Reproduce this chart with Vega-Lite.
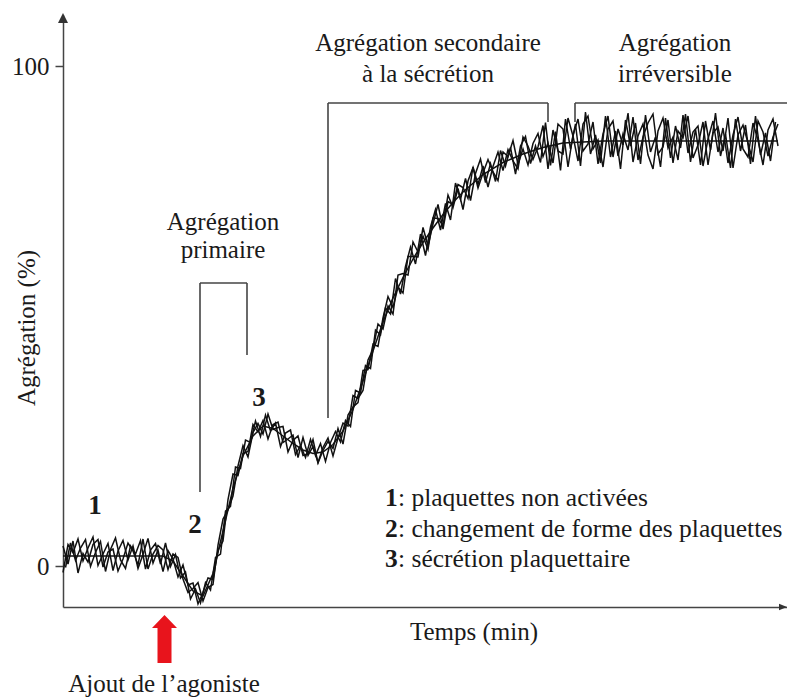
{
"$schema":"https://vega.github.io/schema/vega-lite/v6.json",
"width":724,"height":592,
"autosize":{"type":"none"},
"padding":{"left":63,"top":15,"right":0,"bottom":92},
"background":"white",
"config":{"view":{"stroke":null},"font":"Liberation Serif"},
"datasets":{
"curves":[
{"s":"a","t":0,"v":-1.3},{"s":"a","t":5,"v":4.3},{"s":"a","t":10,"v":2.7},{"s":"a","t":15,"v":5.4},{"s":"a","t":20,"v":1.0},{"s":"a","t":25,"v":3.6},{"s":"a","t":30,"v":5.8},{"s":"a","t":35,"v":0.1},{"s":"a","t":40,"v":2.4},{"s":"a","t":45,"v":4.5},{"s":"a","t":50,"v":-0.9},{"s":"a","t":55,"v":3.0},{"s":"a","t":60,"v":5.1},{"s":"a","t":65,"v":1.2},{"s":"a","t":70,"v":4.0},{"s":"a","t":75,"v":-0.5},{"s":"a","t":80,"v":2.3},{"s":"a","t":85,"v":5.5},{"s":"a","t":90,"v":0.6},{"s":"a","t":95,"v":3.2},{"s":"a","t":100,"v":-1.1},
{"s":"a","t":105,"v":3.1},{"s":"a","t":110,"v":1.4},{"s":"a","t":115,"v":-2.2},{"s":"a","t":120,"v":0.2},{"s":"a","t":125,"v":-3.8},{"s":"a","t":130,"v":-3.4},{"s":"a","t":135,"v":-7.6},{"s":"a","t":140,"v":-5.3},{"s":"a","t":145,"v":-2.4},{"s":"a","t":150,"v":-2.7},{"s":"a","t":155,"v":3.1},{"s":"a","t":160,"v":5.0},{"s":"a","t":165,"v":13.3},{"s":"a","t":170,"v":18.4},{"s":"a","t":175,"v":18.1},{"s":"a","t":180,"v":22.5},{"s":"a","t":185,"v":22.9},{"s":"a","t":190,"v":28.3},{"s":"a","t":195,"v":26.8},{"s":"a","t":200,"v":29.1},{"s":"a","t":205,"v":25.4},{"s":"a","t":210,"v":28.3},{"s":"a","t":215,"v":28.8},{"s":"a","t":220,"v":24.7},{"s":"a","t":225,"v":25.4},{"s":"a","t":230,"v":26.2},{"s":"a","t":235,"v":21.7},{"s":"a","t":240,"v":25.7},{"s":"a","t":245,"v":22.1},{"s":"a","t":250,"v":23.9},{"s":"a","t":255,"v":20.7},{"s":"a","t":260,"v":23.7},{"s":"a","t":265,"v":25.6},{"s":"a","t":270,"v":22.0},{"s":"a","t":275,"v":25.6},{"s":"a","t":280,"v":28.6},{"s":"a","t":285,"v":28.0},{"s":"a","t":290,"v":34.1},{"s":"a","t":295,"v":33.5},{"s":"a","t":300,"v":35.1},{"s":"a","t":305,"v":41.2},{"s":"a","t":310,"v":43.3},{"s":"a","t":315,"v":48.4},{"s":"a","t":320,"v":47.4},{"s":"a","t":325,"v":52.0},
{"s":"a","t":330,"v":50.4},{"s":"a","t":335,"v":58.2},{"s":"a","t":340,"v":58.5},{"s":"a","t":345,"v":58.2},{"s":"a","t":350,"v":64.8},{"s":"a","t":355,"v":62.8},{"s":"a","t":360,"v":66.0},{"s":"a","t":365,"v":63.3},{"s":"a","t":370,"v":69.6},{"s":"a","t":375,"v":69.5},{"s":"a","t":380,"v":68.1},{"s":"a","t":385,"v":74.2},{"s":"a","t":390,"v":71.7},{"s":"a","t":395,"v":75.5},{"s":"a","t":400,"v":71.3},{"s":"a","t":405,"v":77.0},{"s":"a","t":410,"v":79.7},{"s":"a","t":415,"v":75.6},{"s":"a","t":420,"v":78.6},{"s":"a","t":425,"v":81.3},{"s":"a","t":430,"v":78.8},{"s":"a","t":435,"v":77.1},{"s":"a","t":440,"v":82.8},{"s":"a","t":445,"v":81.9},{"s":"a","t":450,"v":85.1},{"s":"a","t":455,"v":80.3},{"s":"a","t":460,"v":83.4},{"s":"a","t":465,"v":80.2},{"s":"a","t":470,"v":84.5},{"s":"a","t":475,"v":86.5},
{"s":"a","t":480,"v":81.9},{"s":"a","t":485,"v":84.6},{"s":"a","t":490,"v":80.6},{"s":"a","t":495,"v":88.4},{"s":"a","t":500,"v":87.4},{"s":"a","t":505,"v":79.8},{"s":"a","t":510,"v":86.2},{"s":"a","t":515,"v":89.4},{"s":"a","t":520,"v":83.0},{"s":"a","t":525,"v":84.4},{"s":"a","t":530,"v":88.8},{"s":"a","t":535,"v":80.4},{"s":"a","t":540,"v":86.4},{"s":"a","t":545,"v":90.0},{"s":"a","t":550,"v":81.8},{"s":"a","t":555,"v":87.4},{"s":"a","t":560,"v":84.2},{"s":"a","t":565,"v":90.6},{"s":"a","t":570,"v":80.8},{"s":"a","t":575,"v":86.0},{"s":"a","t":580,"v":88.4},{"s":"a","t":585,"v":82.2},{"s":"a","t":590,"v":79.4},{"s":"a","t":595,"v":87.0},{"s":"a","t":600,"v":89.6},{"s":"a","t":605,"v":83.6},{"s":"a","t":610,"v":85.8},{"s":"a","t":615,"v":81.2},{"s":"a","t":620,"v":90.2},{"s":"a","t":625,"v":82.6},{"s":"a","t":630,"v":86.8},{"s":"a","t":635,"v":88.0},{"s":"a","t":640,"v":80.0},{"s":"a","t":645,"v":85.4},{"s":"a","t":650,"v":89.0},{"s":"a","t":655,"v":82.8},{"s":"a","t":660,"v":87.6},{"s":"a","t":665,"v":80.6},{"s":"a","t":670,"v":86.2},{"s":"a","t":675,"v":89.8},{"s":"a","t":680,"v":83.4},{"s":"a","t":685,"v":81.8},{"s":"a","t":690,"v":88.6},{"s":"a","t":695,"v":85.2},{"s":"a","t":700,"v":80.2},{"s":"a","t":705,"v":87.2},{"s":"a","t":710,"v":89.4},{"s":"a","t":715,"v":84.0},
{"s":"b","t":0,"v":4.0},{"s":"b","t":5,"v":0.4},{"s":"b","t":10,"v":5.0},{"s":"b","t":15,"v":-1.4},{"s":"b","t":20,"v":2.5},{"s":"b","t":25,"v":0.8},{"s":"b","t":30,"v":4.3},{"s":"b","t":35,"v":5.3},{"s":"b","t":40,"v":-0.2},{"s":"b","t":45,"v":2.8},{"s":"b","t":50,"v":3.4},{"s":"b","t":55,"v":-1.0},{"s":"b","t":60,"v":1.4},{"s":"b","t":65,"v":4.6},{"s":"b","t":70,"v":3.0},{"s":"b","t":75,"v":0.2},{"s":"b","t":80,"v":5.4},{"s":"b","t":85,"v":-0.6},{"s":"b","t":90,"v":2.4},{"s":"b","t":95,"v":4.1},{"s":"b","t":100,"v":3.2},
{"s":"b","t":105,"v":-0.7},{"s":"b","t":110,"v":2.4},{"s":"b","t":115,"v":1.7},{"s":"b","t":120,"v":-2.6},{"s":"b","t":125,"v":-5.3},{"s":"b","t":130,"v":-4.5},{"s":"b","t":135,"v":-3.3},{"s":"b","t":140,"v":-7.0},{"s":"b","t":145,"v":-4.3},{"s":"b","t":150,"v":-3.7},{"s":"b","t":155,"v":4.2},{"s":"b","t":160,"v":9.4},{"s":"b","t":165,"v":11.2},{"s":"b","t":170,"v":14.0},{"s":"b","t":175,"v":20.0},{"s":"b","t":180,"v":24.1},{"s":"b","t":185,"v":21.8},{"s":"b","t":190,"v":26.7},{"s":"b","t":195,"v":28.5},{"s":"b","t":200,"v":26.4},{"s":"b","t":205,"v":30.4},{"s":"b","t":210,"v":27.3},{"s":"b","t":215,"v":27.7},{"s":"b","t":220,"v":27.9},{"s":"b","t":225,"v":22.8},{"s":"b","t":230,"v":25.1},{"s":"b","t":235,"v":26.0},{"s":"b","t":240,"v":22.1},{"s":"b","t":245,"v":22.4},{"s":"b","t":250,"v":25.3},{"s":"b","t":255,"v":20.6},{"s":"b","t":260,"v":23.1},{"s":"b","t":265,"v":24.9},{"s":"b","t":270,"v":23.5},{"s":"b","t":275,"v":27.5},{"s":"b","t":280,"v":24.4},{"s":"b","t":285,"v":30.2},{"s":"b","t":290,"v":31.8},{"s":"b","t":295,"v":32.7},{"s":"b","t":300,"v":39.1},{"s":"b","t":305,"v":39.3},{"s":"b","t":310,"v":44.4},{"s":"b","t":315,"v":43.9},{"s":"b","t":320,"v":49.6},{"s":"b","t":325,"v":53.9},
{"s":"b","t":330,"v":51.7},{"s":"b","t":335,"v":55.8},{"s":"b","t":340,"v":54.6},{"s":"b","t":345,"v":61.9},{"s":"b","t":350,"v":61.9},{"s":"b","t":355,"v":61.8},{"s":"b","t":360,"v":67.7},{"s":"b","t":365,"v":64.0},{"s":"b","t":370,"v":68.4},{"s":"b","t":375,"v":72.3},{"s":"b","t":380,"v":67.4},{"s":"b","t":385,"v":72.9},{"s":"b","t":390,"v":72.3},{"s":"b","t":395,"v":76.3},{"s":"b","t":400,"v":75.7},{"s":"b","t":405,"v":73.5},{"s":"b","t":410,"v":79.8},{"s":"b","t":415,"v":76.3},{"s":"b","t":420,"v":80.0},{"s":"b","t":425,"v":75.8},{"s":"b","t":430,"v":79.9},{"s":"b","t":435,"v":82.8},{"s":"b","t":440,"v":79.1},{"s":"b","t":445,"v":83.3},{"s":"b","t":450,"v":81.0},{"s":"b","t":455,"v":79.4},{"s":"b","t":460,"v":85.8},{"s":"b","t":465,"v":84.0},{"s":"b","t":470,"v":81.3},{"s":"b","t":475,"v":83.8},
{"s":"b","t":480,"v":88.1},{"s":"b","t":485,"v":79.4},{"s":"b","t":490,"v":87.2},{"s":"b","t":495,"v":83.0},{"s":"b","t":500,"v":82.4},{"s":"b","t":505,"v":89.6},{"s":"b","t":510,"v":86.0},{"s":"b","t":515,"v":81.0},{"s":"b","t":520,"v":88.4},{"s":"b","t":525,"v":90.0},{"s":"b","t":530,"v":83.4},{"s":"b","t":535,"v":85.2},{"s":"b","t":540,"v":79.8},{"s":"b","t":545,"v":87.4},{"s":"b","t":550,"v":89.0},{"s":"b","t":555,"v":82.0},{"s":"b","t":560,"v":86.4},{"s":"b","t":565,"v":83.2},{"s":"b","t":570,"v":89.8},{"s":"b","t":575,"v":81.2},{"s":"b","t":580,"v":85.8},{"s":"b","t":585,"v":88.6},{"s":"b","t":590,"v":90.4},{"s":"b","t":595,"v":82.4},{"s":"b","t":600,"v":83.8},{"s":"b","t":605,"v":89.2},{"s":"b","t":610,"v":80.6},{"s":"b","t":615,"v":87.0},{"s":"b","t":620,"v":85.6},{"s":"b","t":625,"v":90.0},{"s":"b","t":630,"v":81.6},{"s":"b","t":635,"v":84.2},{"s":"b","t":640,"v":88.8},{"s":"b","t":645,"v":80.2},{"s":"b","t":650,"v":86.6},{"s":"b","t":655,"v":87.8},{"s":"b","t":660,"v":83.0},{"s":"b","t":665,"v":89.6},{"s":"b","t":670,"v":79.6},{"s":"b","t":675,"v":86.2},{"s":"b","t":680,"v":88.2},{"s":"b","t":685,"v":84.6},{"s":"b","t":690,"v":80.8},{"s":"b","t":695,"v":89.0},{"s":"b","t":700,"v":86.8},{"s":"b","t":705,"v":82.0},{"s":"b","t":710,"v":85.8},{"s":"b","t":715,"v":88.4},
{"s":"d","t":2.5,"v":-0.3},{"s":"d","t":7.5,"v":4.6},{"s":"d","t":12.5,"v":1.1},{"s":"d","t":17.5,"v":3.6},{"s":"d","t":22.5,"v":5.3},{"s":"d","t":27.5,"v":-0.1},{"s":"d","t":32.5,"v":2.7},{"s":"d","t":37.5,"v":4.9},{"s":"d","t":42.5,"v":-1.1},{"s":"d","t":47.5,"v":3.3},{"s":"d","t":52.5,"v":5.6},{"s":"d","t":57.5,"v":1.2},{"s":"d","t":62.5,"v":-0.5},{"s":"d","t":67.5,"v":4.0},{"s":"d","t":72.5,"v":2.4},{"s":"d","t":77.5,"v":5.1},{"s":"d","t":82.5,"v":-0.6},{"s":"d","t":87.5,"v":3.2},{"s":"d","t":92.5,"v":4.5},{"s":"d","t":97.5,"v":0.4},{"s":"d","t":102.5,"v":4.6},
{"s":"d","t":107.5,"v":-0.1},{"s":"d","t":112.5,"v":2.3},{"s":"d","t":117.5,"v":-2.4},{"s":"d","t":122.5,"v":-1.2},{"s":"d","t":127.5,"v":-6.6},{"s":"d","t":132.5,"v":-4.6},{"s":"d","t":137.5,"v":-7.4},{"s":"d","t":142.5,"v":-3.3},{"s":"d","t":147.5,"v":-4.8},{"s":"d","t":152.5,"v":1.7},{"s":"d","t":157.5,"v":2.4},{"s":"d","t":162.5,"v":11.0},{"s":"d","t":167.5,"v":11.9},{"s":"d","t":172.5,"v":19.8},{"s":"d","t":177.5,"v":19.5},{"s":"d","t":182.5,"v":25.2},{"s":"d","t":187.5,"v":24.7},{"s":"d","t":192.5,"v":29.0},{"s":"d","t":197.5,"v":25.9},{"s":"d","t":202.5,"v":30.2},{"s":"d","t":207.5,"v":27.0},{"s":"d","t":212.5,"v":28.6},{"s":"d","t":217.5,"v":23.9},{"s":"d","t":222.5,"v":26.6},{"s":"d","t":227.5,"v":27.2},{"s":"d","t":232.5,"v":22.3},{"s":"d","t":237.5,"v":24.1},{"s":"d","t":242.5,"v":21.7},{"s":"d","t":247.5,"v":25.3},{"s":"d","t":252.5,"v":22.1},{"s":"d","t":257.5,"v":24.5},{"s":"d","t":262.5,"v":20.9},{"s":"d","t":267.5,"v":24.7},{"s":"d","t":272.5,"v":26.9},{"s":"d","t":277.5,"v":24.8},{"s":"d","t":282.5,"v":29.1},{"s":"d","t":287.5,"v":27.9},{"s":"d","t":292.5,"v":35.1},{"s":"d","t":297.5,"v":34.6},{"s":"d","t":302.5,"v":40.1},{"s":"d","t":307.5,"v":39.5},{"s":"d","t":312.5,"v":47.2},{"s":"d","t":317.5,"v":46.2},{"s":"d","t":322.5,"v":51.6},{"s":"d","t":327.5,"v":50.4},
{"s":"d","t":332.5,"v":57.5},{"s":"d","t":337.5,"v":54.4},{"s":"d","t":342.5,"v":59.9},{"s":"d","t":347.5,"v":63.8},{"s":"d","t":352.5,"v":60.4},{"s":"d","t":357.5,"v":66.4},{"s":"d","t":362.5,"v":62.1},{"s":"d","t":367.5,"v":67.8},{"s":"d","t":372.5,"v":71.3},{"s":"d","t":377.5,"v":67.2},{"s":"d","t":382.5,"v":72.5},{"s":"d","t":387.5,"v":69.2},{"s":"d","t":392.5,"v":76.6},{"s":"d","t":397.5,"v":73.3},{"s":"d","t":402.5,"v":77.5},{"s":"d","t":407.5,"v":73.1},{"s":"d","t":412.5,"v":78.5},{"s":"d","t":417.5,"v":81.4},{"s":"d","t":422.5,"v":76.7},{"s":"d","t":427.5,"v":80.5},{"s":"d","t":432.5,"v":76.9},{"s":"d","t":437.5,"v":83.1},{"s":"d","t":442.5,"v":80.0},{"s":"d","t":447.5,"v":83.7},{"s":"d","t":452.5,"v":78.4},{"s":"d","t":457.5,"v":84.0},{"s":"d","t":462.5,"v":85.9},{"s":"d","t":467.5,"v":80.5},{"s":"d","t":472.5,"v":84.0},{"s":"d","t":477.5,"v":80.7},
{"s":"d","t":482.5,"v":88.7},{"s":"d","t":487.5,"v":80.1},{"s":"d","t":492.5,"v":86.9},{"s":"d","t":497.5,"v":79.1},{"s":"d","t":502.5,"v":89.4},{"s":"d","t":507.5,"v":83.4},{"s":"d","t":512.5,"v":88.4},{"s":"d","t":517.5,"v":80.0},{"s":"d","t":522.5,"v":90.8},{"s":"d","t":527.5,"v":82.4},{"s":"d","t":532.5,"v":86.2},{"s":"d","t":537.5,"v":80.6},{"s":"d","t":542.5,"v":90.0},{"s":"d","t":547.5,"v":81.8},{"s":"d","t":552.5,"v":87.0},{"s":"d","t":557.5,"v":79.4},{"s":"d","t":562.5,"v":89.2},{"s":"d","t":567.5,"v":84.0},{"s":"d","t":572.5,"v":88.6},{"s":"d","t":577.5,"v":80.4},{"s":"d","t":582.5,"v":90.2},{"s":"d","t":587.5,"v":82.8},{"s":"d","t":592.5,"v":85.8},{"s":"d","t":597.5,"v":79.8},{"s":"d","t":602.5,"v":89.6},{"s":"d","t":607.5,"v":81.6},{"s":"d","t":612.5,"v":88.0},{"s":"d","t":617.5,"v":83.6},{"s":"d","t":622.5,"v":90.4},{"s":"d","t":627.5,"v":80.8},{"s":"d","t":632.5,"v":87.4},{"s":"d","t":637.5,"v":80.2},{"s":"d","t":642.5,"v":89.0},{"s":"d","t":647.5,"v":83.2},{"s":"d","t":652.5,"v":90.6},{"s":"d","t":657.5,"v":82.0},{"s":"d","t":662.5,"v":86.4},{"s":"d","t":667.5,"v":79.6},{"s":"d","t":672.5,"v":89.4},{"s":"d","t":677.5,"v":83.0},{"s":"d","t":682.5,"v":88.2},{"s":"d","t":687.5,"v":80.4},{"s":"d","t":692.5,"v":90.0},{"s":"d","t":697.5,"v":82.2},{"s":"d","t":702.5,"v":86.6},{"s":"d","t":707.5,"v":81.0},{"s":"d","t":712.5,"v":88.8},
{"s":"c","t":0,"v":2},{"s":"c","t":50,"v":2},{"s":"c","t":100,"v":2},{"s":"c","t":110,"v":1},{"s":"c","t":120,"v":-2},{"s":"c","t":130,"v":-5},{"s":"c","t":140,"v":-6},{"s":"c","t":150,"v":-1.5},{"s":"c","t":160,"v":7},{"s":"c","t":170,"v":15.5},{"s":"c","t":180,"v":22},{"s":"c","t":190,"v":26},{"s":"c","t":200,"v":28},{"s":"c","t":210,"v":27.5},{"s":"c","t":220,"v":26},{"s":"c","t":230,"v":24.5},{"s":"c","t":240,"v":23.2},{"s":"c","t":250,"v":22.5},{"s":"c","t":260,"v":22.8},{"s":"c","t":270,"v":24.3},{"s":"c","t":280,"v":27},{"s":"c","t":290,"v":31.3},{"s":"c","t":300,"v":37},{"s":"c","t":310,"v":43},{"s":"c","t":320,"v":48.8},{"s":"c","t":330,"v":53.6},{"s":"c","t":340,"v":57.7},{"s":"c","t":350,"v":61.4},{"s":"c","t":360,"v":64.7},{"s":"c","t":370,"v":67.6},{"s":"c","t":380,"v":70.3},{"s":"c","t":390,"v":72.7},{"s":"c","t":400,"v":74.8},{"s":"c","t":420,"v":78.3},{"s":"c","t":440,"v":80.7},{"s":"c","t":460,"v":82.4},{"s":"c","t":480,"v":83.7},{"s":"c","t":500,"v":84.6},{"s":"c","t":540,"v":85},{"s":"c","t":715,"v":85}
]},
"encoding":{
"x":{"field":"t","type":"quantitative","scale":{"domain":[0,724],"nice":false,"zero":false},"axis":{"title":null,"labels":false,"ticks":false,"grid":false,"domainColor":"#444","domainWidth":1.5}},
"y":{"field":"v","type":"quantitative","scale":{"domain":[-8.2,110.2],"nice":false,"zero":false},"axis":{"title":null,"values":[0,100],"grid":false,"tickSize":8,"tickColor":"#444","tickWidth":1.5,"domainColor":"#444","domainWidth":1.5,"labelPadding":6,"labelFont":"Liberation Serif","labelFontSize":25,"labelColor":"#1a1a1a"}}
},
"layer":[
{"data":{"name":"curves"},"mark":{"type":"line","color":"#111","strokeWidth":1.5},"encoding":{"detail":{"field":"s"}}},
{"data":{"values":[{"t":137,"t2":137,"v":56.6,"v2":14.8},{"t":137,"t2":184,"v":56.6,"v2":56.6},{"t":184,"t2":184,"v":56.6,"v2":42.2},{"t":265,"t2":265,"v":92.6,"v2":29.6},{"t":265,"t2":485,"v":92.6,"v2":92.6},{"t":485,"t2":485,"v":92.6,"v2":88.8},{"t":512,"t2":512,"v":92.6,"v2":88.8},{"t":512,"t2":724,"v":92.6,"v2":92.6}]},
 "mark":{"type":"rule","color":"#444","strokeWidth":1.6},"encoding":{"x2":{"field":"t2"},"y2":{"field":"v2"}}},
{"data":{"values":[{"t":32,"v":12.0,"txt":"1"},{"t":132,"v":8.2,"txt":"2"},{"t":196,"v":33.6,"txt":"3"}]},
 "mark":{"type":"text","font":"Liberation Serif","color":"#1a1a1a","fontSize":27,"fontWeight":"bold","baseline":"middle","align":"center"},"encoding":{"text":{"field":"txt"}}},
{"data":{"values":[{"t":160,"v":67.2,"txt":"Agrégation"},{"t":160,"v":61.6,"txt":"primaire"},{"t":365,"v":103.0,"txt":"Agrégation secondaire"},{"t":365,"v":96.8,"txt":"à la sécrétion"},{"t":612,"v":103.0,"txt":"Agrégation"},{"t":612,"v":96.8,"txt":"irréversible"},{"t":411,"v":-14.8,"txt":"Temps (min)"},{"t":101,"v":-25.2,"txt":"Ajout de l’agoniste"}]},
 "mark":{"type":"text","font":"Liberation Serif","color":"#1a1a1a","fontSize":25,"baseline":"alphabetic","align":"center"},"encoding":{"text":{"field":"txt"}}},
{"data":{"values":[{"t":322,"v":12.0,"txt":"1"},{"t":322,"v":5.8,"txt":"2"},{"t":322,"v":-0.2,"txt":"3"}]},
 "mark":{"type":"text","font":"Liberation Serif","color":"#1a1a1a","fontSize":25.5,"fontWeight":"bold","baseline":"alphabetic","align":"left"},"encoding":{"text":{"field":"txt"}}},
{"data":{"values":[{"t":335,"v":12.0,"txt":": plaquettes non activées"},{"t":335,"v":5.8,"txt":": changement de forme des plaquettes"},{"t":335,"v":-0.2,"txt":": sécrétion plaquettaire"}]},
 "mark":{"type":"text","font":"Liberation Serif","color":"#1a1a1a","fontSize":25.5,"baseline":"alphabetic","align":"left"},"encoding":{"text":{"field":"txt"}}},
{"data":{"values":[{"t":-36,"v":47.6,"txt":"Agrégation (%)"}]},
 "mark":{"type":"text","font":"Liberation Serif","color":"#1a1a1a","fontSize":25,"angle":270,"baseline":"middle","align":"center"},"encoding":{"text":{"field":"txt"}}},
{"data":{"values":[{"t":0,"v":109.6}]},"mark":{"type":"point","shape":"M0,-1L1,1L-1,1Z","size":100,"filled":true,"opacity":1,"color":"#333","strokeWidth":0}},
{"data":{"values":[{"t":720,"v":-8.2}]},"mark":{"type":"point","shape":"M1,0L-1,-0.8L-1,0.8Z","size":64,"filled":true,"opacity":1,"color":"#333","strokeWidth":0}},
{"data":{"values":[{"t":101.5,"v":-14.6}]},"mark":{"type":"point","shape":"M0,-1.92L1,-0.88L0.56,-0.88L0.56,1.92L-0.56,1.92L-0.56,-0.88L-1,-0.88Z","size":625,"filled":true,"opacity":1,"color":"#e8141c","strokeWidth":0}}
]
}
